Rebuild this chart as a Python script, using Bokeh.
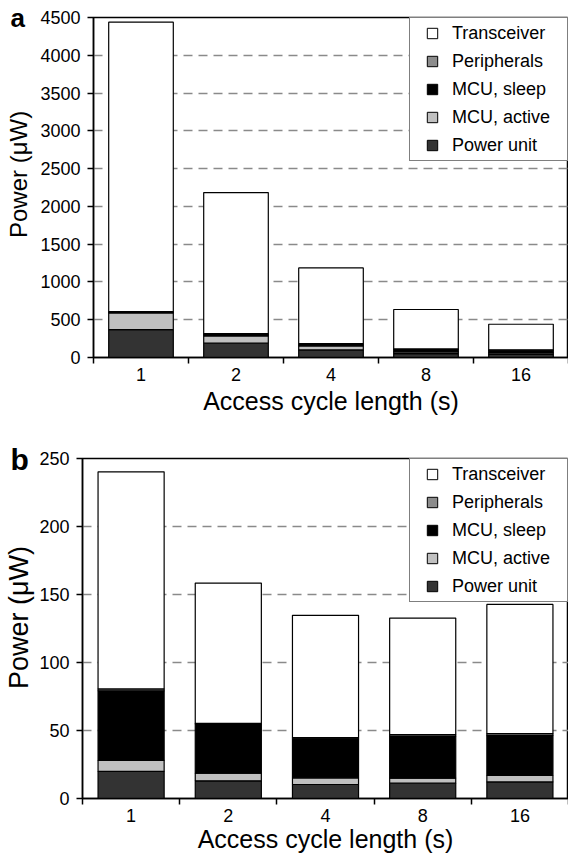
from bokeh.embed import file_html
from bokeh.layouts import column
from bokeh.models import (ColumnDataSource, FixedTicker, Legend, LegendItem,
                          Range1d, Title)
from bokeh.plotting import figure
from bokeh.resources import INLINE

FONT = "Liberation Sans"

# Access cycle lengths (s) and the power components, bottom of the stack first
cycle_labels = ["1", "2", "4", "8", "16"]
components = ["Power unit", "MCU, active", "MCU, sleep", "Peripherals", "Transceiver"]
component_colors = ["#333333", "#c0c0c0", "#000000", "#8c8c8c", "#ffffff"]

# Panel a: power consumption (µW)
a_power_unit = [370, 190, 100, 50, 45]
a_mcu_active = [220, 95, 55, 25, 20]
a_mcu_sleep = [15, 25, 25, 33, 32]
a_peripherals = [3, 5, 5, 5, 5]
a_transceiver = [3830, 1868, 1001, 522, 338]
a_ticks = [0, 500, 1000, 1500, 2000, 2500, 3000, 3500, 4000, 4500]

# Panel b: power consumption (µW)
b_power_unit = [20.0, 13.0, 10.3, 11.3, 12.2]
b_mcu_active = [8.0, 5.6, 4.9, 3.7, 4.7]
b_mcu_sleep = [51.2, 36.2, 29.1, 30.7, 29.3]
b_peripherals = [1.4, 0.5, 0.5, 1.2, 1.5]
b_transceiver = [159.6, 103.1, 89.9, 85.8, 95.0]
b_ticks = [0, 50, 100, 150, 200, 250]

PAGE_WIDTH = 568


def build_panel(letter, series, yticks, frame_left, height, top, bottom,
                letter_size, letter_standoff, ytitle_size, ytitle_offset,
                ytitle_standoff, xtitle_standoff):
    n = len(cycle_labels)
    xs = [i + 0.5 for i in range(n)]
    data = {"x": xs}
    for name, vals in zip(components, series):
        data[name] = vals
    source = ColumnDataSource(data)

    p = figure(width=PAGE_WIDTH, height=height,
               x_range=Range1d(0, n), y_range=Range1d(0, yticks[-1]),
               output_backend="svg", toolbar_location=None,
               min_border_left=frame_left, min_border_right=0,
               min_border_top=top, min_border_bottom=bottom,
               frame_align=False)
    p.background_fill_color = "white"
    p.border_fill_color = "white"
    p.outline_line_color = "black"
    p.outline_line_width = 1.5

    p.vbar_stack(components, x="x", width=0.68, source=source,
                 fill_color=component_colors, line_color="black", line_width=1.2)

    # legend swatches (legend order: top of stack first)
    items = []
    for name, color in reversed(list(zip(components, component_colors))):
        r = p.scatter(x="x", y=name, source=source, marker="square", size=10,
                      fill_color=color, line_color="black", line_width=1,
                      visible=False)
        items.append(LegendItem(label=name, renderers=[r]))
    legend = Legend(items=items, location="top_right",
                    glyph_width=40, glyph_height=26, label_standoff=0,
                    spacing=2, padding=2, margin=0,
                    label_width=113, label_height=20,
                    label_text_font=FONT, label_text_font_size="18px",
                    label_text_color="black",
                    border_line_color="black", border_line_width=1,
                    background_fill_color="white", background_fill_alpha=1)
    p.add_layout(legend, "center")

    # y axis
    p.yaxis.ticker = FixedTicker(ticks=yticks)
    p.yaxis.major_tick_out = 6
    p.yaxis.major_tick_in = 0
    p.yaxis.minor_tick_out = 0
    p.yaxis.minor_tick_in = 0
    p.yaxis.major_label_standoff = 7
    p.yaxis.major_label_text_font = FONT
    p.yaxis.major_label_text_font_size = "18px"
    p.yaxis.major_label_text_color = "black"
    p.yaxis.axis_line_color = "black"
    p.yaxis.axis_line_width = 1.5
    p.yaxis.major_tick_line_color = "black"
    p.yaxis.major_tick_line_width = 1.5

    # x axis: labels at bar centres, tick marks between categories
    p.xaxis.ticker = FixedTicker(ticks=xs, minor_ticks=list(range(n + 1)))
    p.xaxis.major_label_overrides = {x: lab for x, lab in zip(xs, cycle_labels)}
    p.xaxis.major_tick_out = 0
    p.xaxis.major_tick_in = 0
    p.xaxis.minor_tick_out = 6
    p.xaxis.minor_tick_in = 0
    p.xaxis.minor_tick_line_color = "black"
    p.xaxis.minor_tick_line_width = 1.5
    p.xaxis.major_label_standoff = 4
    p.xaxis.major_label_text_font = FONT
    p.xaxis.major_label_text_font_size = "18px"
    p.xaxis.major_label_text_color = "black"
    p.xaxis.axis_line_color = "black"
    p.xaxis.axis_line_width = 1.5
    p.xaxis.axis_label = "Access cycle length (s)"
    p.xaxis.axis_label_standoff = xtitle_standoff
    p.xaxis.axis_label_text_font = FONT
    p.xaxis.axis_label_text_font_size = "25px"
    p.xaxis.axis_label_text_font_style = "normal"
    p.xaxis.axis_label_text_color = "black"

    # dashed horizontal grid
    p.xgrid.visible = False
    p.ygrid.ticker = FixedTicker(ticks=yticks[1:-1])
    p.ygrid.grid_line_color = "#8a8a8a"
    p.ygrid.grid_line_dash = "9 6"
    p.ygrid.grid_line_width = 1.3

    # y-axis title, placed outside the tick labels
    p.add_layout(Title(text="Power (\u03bcW)", align="left",
                       offset=ytitle_offset, vertical_align="top",
                       standoff=ytitle_standoff, text_font=FONT,
                       text_font_size=ytitle_size, text_font_style="normal",
                       text_color="black"), "left")
    # panel letter in the top-left corner
    p.add_layout(Title(text=letter, align="left", offset=10 - frame_left,
                       vertical_align="bottom", standoff=letter_standoff,
                       text_font=FONT, text_font_size=letter_size,
                       text_font_style="bold", text_color="black"), "above")
    return p


fig_a = build_panel("a",
                    [a_power_unit, a_mcu_active, a_mcu_sleep, a_peripherals, a_transceiver],
                    a_ticks, frame_left=93, height=418, top=17, bottom=61,
                    letter_size="26px", letter_standoff=-30,
                    ytitle_size="24px", ytitle_offset=119.5, ytitle_standoff=8,
                    xtitle_standoff=3)
fig_b = build_panel("b",
                    [b_power_unit, b_mcu_active, b_mcu_sleep, b_peripherals, b_transceiver],
                    b_ticks, frame_left=82, height=437, top=40, bottom=56,
                    letter_size="30px", letter_standoff=-34,
                    ytitle_size="27px", ytitle_offset=109.5, ytitle_standoff=2,
                    xtitle_standoff=0)

layout = column(fig_a, fig_b, spacing=0)
open("out.html", "w").write(file_html(layout, INLINE))
